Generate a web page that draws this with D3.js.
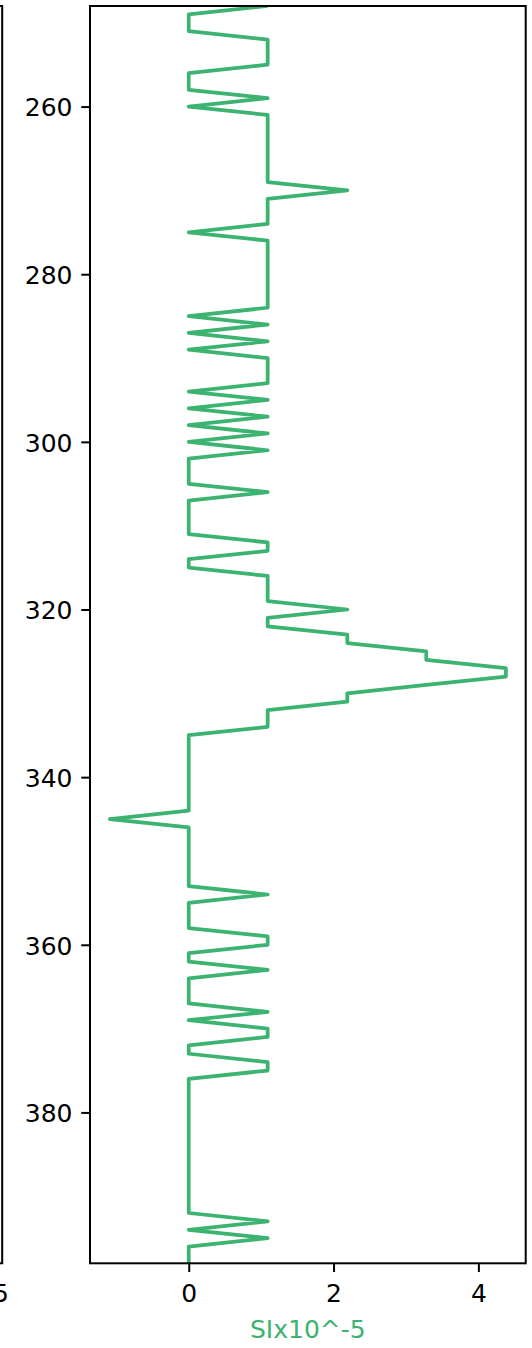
<!DOCTYPE html>
<html>
<head>
<meta charset="utf-8">
<script src="https://cdn.jsdelivr.net/npm/d3@7/dist/d3.min.js"></script>
<style>
  html, body { margin: 0; padding: 0; background: #ffffff; }
  svg { display: block; }
</style>
</head>
<body>
<svg id="chart" width="532" height="1348"></svg>
<script>
// ---- data ----
const depths = [
  248,249,250,251,252,253,254,255,256,257,
  258,259,260,261,262,263,264,265,266,267,
  268,269,270,271,272,273,274,275,276,277,
  278,279,280,281,282,283,284,285,286,287,
  288,289,290,291,292,293,294,295,296,297,
  298,299,300,301,302,303,304,305,306,307,
  308,309,310,311,312,313,314,315,316,317,
  318,319,320,321,322,323,324,325,326,327,
  328,329,330,331,332,333,334,335,336,337,
  338,339,340,341,342,343,344,345,346,347,
  348,349,350,351,352,353,354,355,356,357,
  358,359,360,361,362,363,364,365,366,367,
  368,369,370,371,372,373,374,375,376,377,
  378,379,380,381,382,383,384,385,386,387,
  388,389,390,391,392,393,394,395,396,397,
  398
];
const siValues = [
  1.09,0,0,0,1.09,1.09,1.09,1.09,0,0,
  0,1.09,0,1.09,1.09,1.09,1.09,1.09,1.09,1.09,
  1.09,1.09,2.19,1.09,1.09,1.09,1.09,0,1.09,1.09,
  1.09,1.09,1.09,1.09,1.09,1.09,1.09,0,1.09,0,
  1.09,0,1.09,1.09,1.09,1.09,0,1.09,0,1.09,
  0,1.09,0,1.09,0,0,0,0,1.09,0,
  0,0,0,0,1.09,1.09,0,0,1.09,1.09,
  1.09,1.09,2.19,1.09,1.09,2.19,2.19,3.28,3.28,4.38,
  4.38,3.28,2.19,2.19,1.09,1.09,1.09,0,0,0,
  0,0,0,0,0,0,0,-1.09,0,0,
  0,0,0,0,0,0,1.09,0,0,0,
  0,1.09,1.09,0,0,1.09,0,0,0,0,
  1.09,0,1.09,1.09,0,0,1.09,1.09,0,0,
  0,0,0,0,0,0,0,0,0,0,
  0,0,0,0,0,1.09,0,1.09,0,0,
  0
];
const xTicks = [0, 2, 4];
const yTicks = [260, 280, 300, 320, 340, 360, 380];
const depthLimits = [248, 398];
const xLabel = "SIx10^-5";
const neighbourTick = "5";

// ---- layout ----
const padL = 90, padR = 525.7, padT = 6, padB = 1263.3;
const green = "#3cb371";
const font = "'DejaVu Sans', sans-serif";
const fs = 25;
const tickLen = 8.75;

const svg = d3.select("#chart");
svg.append("rect").attr("width", 532).attr("height", 1348).attr("fill", "#fff");

// x domain with matplotlib-like 5% margins
const [vmin, vmax] = d3.extent(siValues);
const mpad = (vmax - vmin) * 0.05;
const x = d3.scaleLinear().domain([vmin - mpad, vmax + mpad]).range([padL, padR]);
const y = d3.scaleLinear().domain(depthLimits).range([padT, padB]);

// neighbouring panel edge (cut off at left)
svg.append("path")
  .attr("d", `M-10,${padT}H2.2V${padB}H-10`)
  .attr("fill", "none").attr("stroke", "#000").attr("stroke-width", 2);
svg.append("text")
  .attr("x", 1).attr("y", padB + 38.4)
  .attr("text-anchor", "middle")
  .attr("font-family", font).attr("font-size", fs).attr("fill", "#000")
  .text(neighbourTick);

// clip
svg.append("defs").append("clipPath").attr("id", "clip")
  .append("rect").attr("x", padL).attr("y", padT)
  .attr("width", padR - padL).attr("height", padB - padT);

// data line
const pts = depths.map((d, i) => [siValues[i], d]);
svg.append("path")
  .datum(pts)
  .attr("clip-path", "url(#clip)")
  .attr("fill", "none")
  .attr("stroke", green)
  .attr("stroke-width", 3.75)
  .attr("stroke-linejoin", "round")
  .attr("d", d3.line().x(p => x(p[0])).y(p => y(p[1])));

// axes
const xAxis = svg.append("g")
  .attr("transform", `translate(0,${padB})`)
  .call(d3.axisBottom(x).tickValues(xTicks).tickFormat(d3.format("d"))
        .tickSize(tickLen).tickSizeOuter(0).tickPadding(8.75));
xAxis.select(".domain").remove();
xAxis.selectAll(".tick line").attr("stroke", "#000").attr("stroke-width", 2);
xAxis.selectAll(".tick text")
  .attr("y", 38.4).attr("dy", 0)
  .attr("font-family", font).attr("font-size", fs).attr("fill", "#000");

const yAxis = svg.append("g")
  .attr("transform", `translate(${padL},0)`)
  .call(d3.axisLeft(y).tickValues(yTicks).tickFormat(d3.format("d"))
        .tickSize(tickLen).tickSizeOuter(0).tickPadding(8.75));
yAxis.select(".domain").remove();
yAxis.selectAll(".tick line").attr("stroke", "#000").attr("stroke-width", 2);
yAxis.selectAll(".tick text")
  .attr("dy", "0.37em")
  .attr("font-family", font).attr("font-size", fs).attr("fill", "#000");

// frame
svg.append("rect")
  .attr("x", padL).attr("y", padT)
  .attr("width", padR - padL).attr("height", padB - padT)
  .attr("fill", "none").attr("stroke", "#000").attr("stroke-width", 2);

// x label
svg.append("text")
  .attr("x", (padL + padR) / 2).attr("y", 1337.7)
  .attr("text-anchor", "middle")
  .attr("font-family", font).attr("font-size", fs).attr("fill", green)
  .text(xLabel);
</script>
</body>
</html>
